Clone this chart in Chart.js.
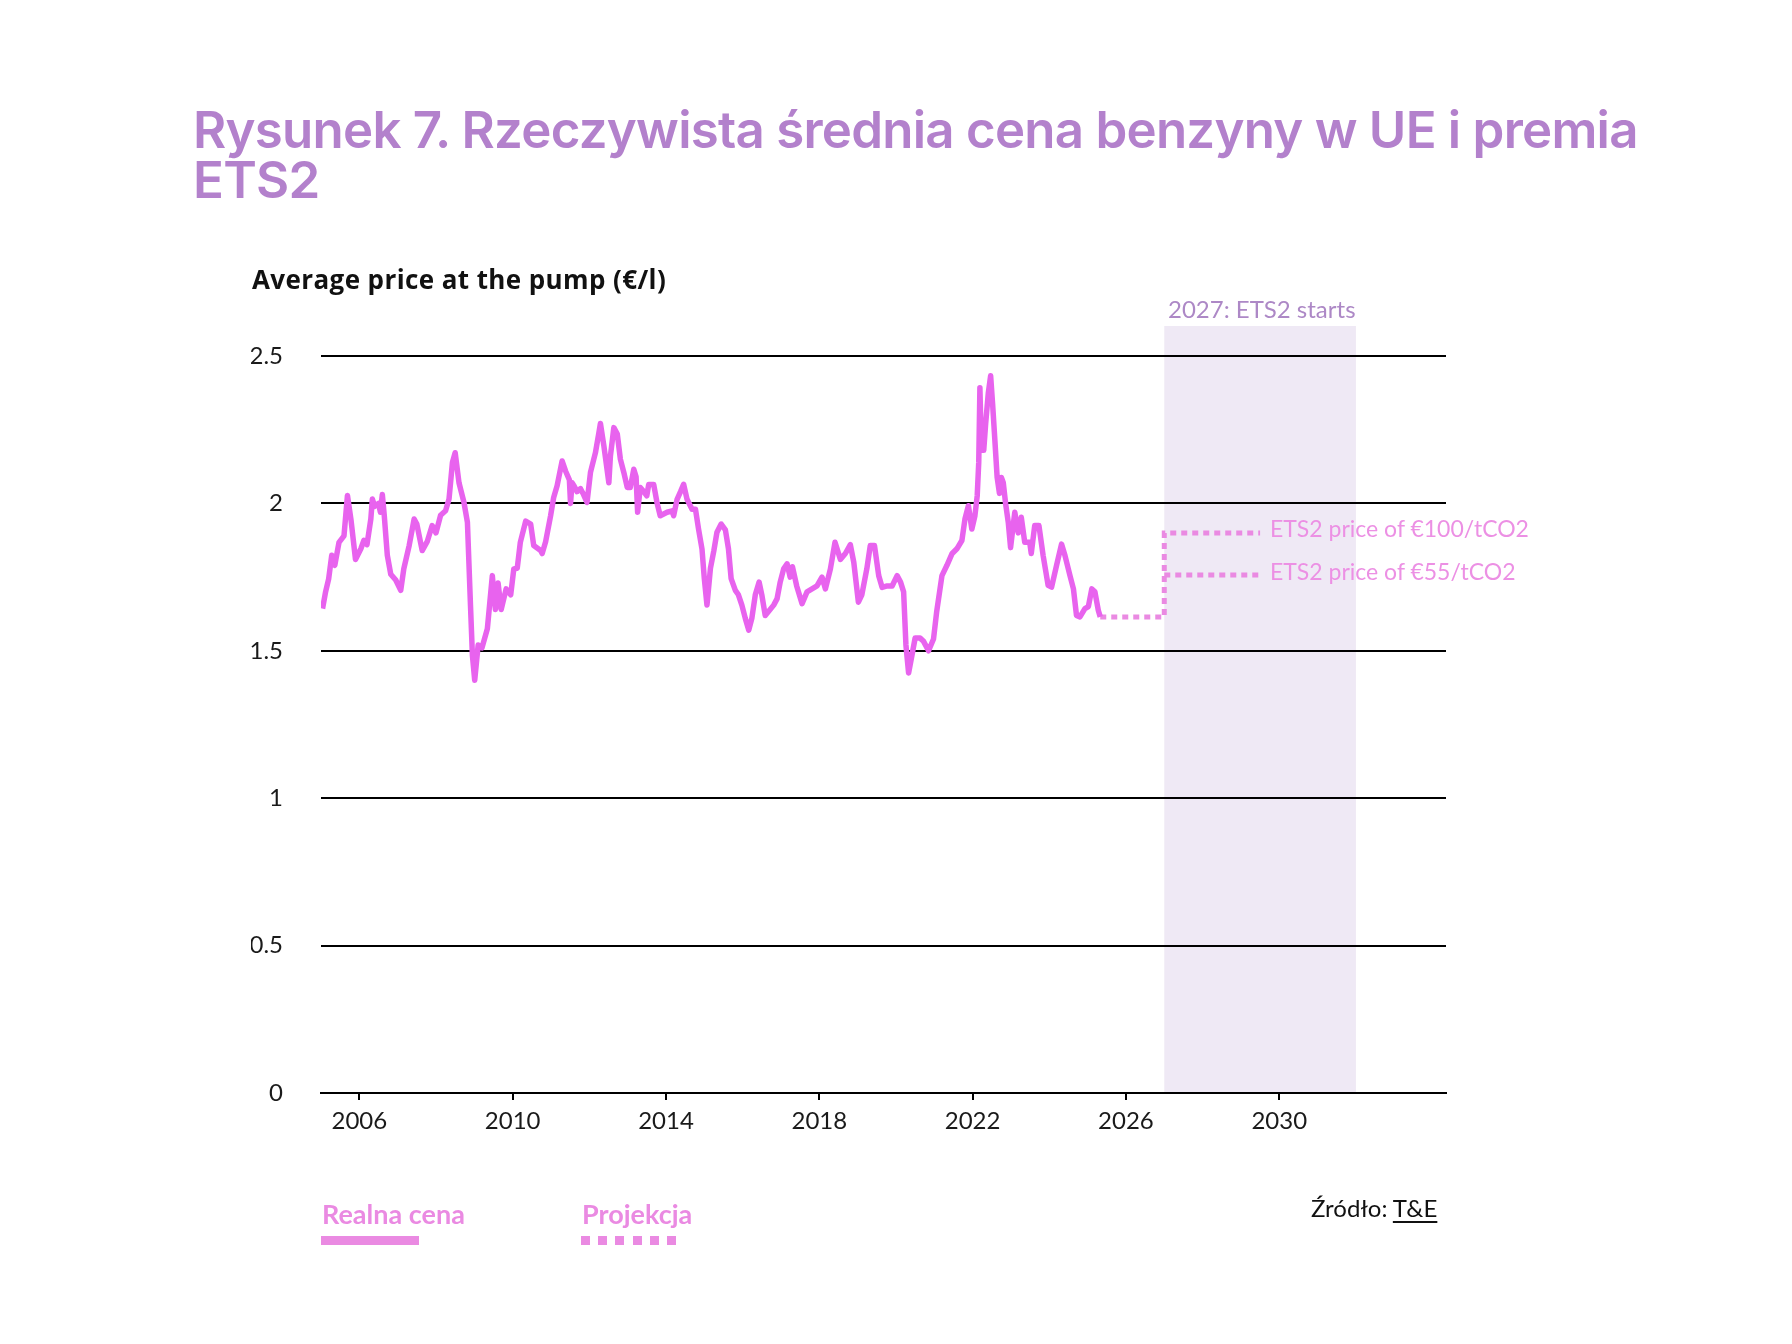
<!DOCTYPE html>
<html lang="pl">
<head>
<meta charset="utf-8">
<title>Rysunek 7</title>
<script src="https://cdn.jsdelivr.net/npm/chart.js@4.4.1/dist/chart.umd.min.js"></script>
<style>
  html, body { margin: 0; padding: 0; background: #fff; }
  #page { position: relative; width: 1792px; height: 1344px; overflow: hidden; font-family: Lato, sans-serif; }
  #chart { position: absolute; left: 0; top: 0; }
  .txt { position: absolute; white-space: nowrap; line-height: 1; }
  #title { left: 193px; top: 105px; font-family: Inter, sans-serif; font-weight: 600; font-size: 51px; line-height: 50px; color: #b381cc; letter-spacing: -0.75px; }
  #ytitle { left: 252px; top: 266px; font-family: "Open Sans", sans-serif; font-weight: 700; font-size: 26px; color: #111; letter-spacing: 0.4px; }
  #ets-start { left: 1168px; top: 297px; font-size: 24px; color: #ad88c6; }
  .ets-lab { left: 1270px; font-size: 23px; color: #ec90e4; }
  .leg { font-weight: 700; font-size: 27px; color: #ea8ae2; top: 1200px; }
  .leg-bar { position: absolute; top: 1236px; height: 9px; }
  #source { left: 1311px; top: 1196px; font-size: 24px; color: #111; }
  #source u { text-underline-offset: 4px; text-decoration-thickness: 2px; }
</style>
</head>
<body>
<div id="page">
  <canvas id="chart" width="1792" height="1344"></canvas>

  <div class="txt" id="title">Rysunek 7. Rzeczywista średnia cena benzyny w UE i premia<br>ETS2</div>
  <div class="txt" id="ytitle">Average price at the pump (€/l)</div>
  <div class="txt" id="ets-start">2027: ETS2 starts</div>
  <div class="txt ets-lab" style="top:517px">ETS2 price of €100/tCO2</div>
  <div class="txt ets-lab" style="top:560px">ETS2 price of €55/tCO2</div>

  <div class="txt leg" style="left:322px">Realna cena</div>
  <div class="leg-bar" style="left:321px; width:98px; background:#ea8ae2"></div>
  <div class="txt leg" style="left:582px">Projekcja</div>
  <div class="leg-bar" style="left:581px; width:95px; background:repeating-linear-gradient(to right, #ea8ae2 0 9px, transparent 9px 17.2px)"></div>

  <div class="txt" id="source">Źródło: <u>T&amp;E</u></div>
</div>

<script>
// Rzeczywista cena (rok dziesiętny)
const realYears = [
  2005.04, 2005.12, 2005.20, 2005.28, 2005.36, 2005.47, 2005.60, 2005.69, 2005.78, 2005.90,
  2006.04, 2006.12, 2006.20, 2006.30, 2006.34, 2006.40, 2006.50, 2006.55, 2006.60, 2006.65,
  2006.73, 2006.82, 2006.95, 2007.08, 2007.16, 2007.30, 2007.43, 2007.50, 2007.64, 2007.77,
  2007.90, 2008.00, 2008.12, 2008.25, 2008.34, 2008.43, 2008.50, 2008.60, 2008.73, 2008.82,
  2008.90, 2008.95, 2009.01, 2009.10, 2009.20, 2009.34, 2009.47, 2009.55, 2009.62, 2009.70,
  2009.83, 2009.95, 2010.03, 2010.12, 2010.20, 2010.34, 2010.47, 2010.55, 2010.73, 2010.77,
  2010.86, 2010.99, 2011.07, 2011.16, 2011.29, 2011.38, 2011.48, 2011.51, 2011.55, 2011.60,
  2011.68, 2011.77, 2011.85, 2011.94, 2012.03, 2012.16, 2012.25, 2012.29, 2012.38, 2012.51,
  2012.55, 2012.64, 2012.73, 2012.81, 2012.90, 2012.99, 2013.07, 2013.16, 2013.22, 2013.26,
  2013.33, 2013.42, 2013.50, 2013.55, 2013.68, 2013.77, 2013.85, 2014.03, 2014.16, 2014.20,
  2014.29, 2014.38, 2014.46, 2014.55, 2014.68, 2014.77, 2014.85, 2014.94, 2015.00, 2015.07,
  2015.16, 2015.25, 2015.33, 2015.44, 2015.55, 2015.63, 2015.70, 2015.81, 2015.89, 2015.98,
  2016.07, 2016.16, 2016.24, 2016.33, 2016.43, 2016.50, 2016.59, 2016.68, 2016.81, 2016.90,
  2016.98, 2017.07, 2017.16, 2017.24, 2017.30, 2017.41, 2017.55, 2017.68, 2017.81, 2017.94,
  2018.07, 2018.16, 2018.29, 2018.41, 2018.55, 2018.68, 2018.81, 2018.90, 2019.02, 2019.11,
  2019.24, 2019.33, 2019.44, 2019.55, 2019.64, 2019.77, 2019.90, 2020.03, 2020.12, 2020.20,
  2020.26, 2020.33, 2020.42, 2020.50, 2020.63, 2020.72, 2020.85, 2020.98, 2021.06, 2021.20,
  2021.33, 2021.46, 2021.59, 2021.72, 2021.80, 2021.89, 2021.98, 2022.06, 2022.12, 2022.16,
  2022.19, 2022.23, 2022.29, 2022.34, 2022.41, 2022.47, 2022.52, 2022.58, 2022.64, 2022.70,
  2022.75, 2022.80, 2022.86, 2022.93, 2022.99, 2023.10, 2023.19, 2023.27, 2023.36, 2023.49,
  2023.53, 2023.62, 2023.73, 2023.84, 2023.97, 2024.06, 2024.19, 2024.32, 2024.41, 2024.54,
  2024.63, 2024.71, 2024.80, 2024.93, 2025.02, 2025.11, 2025.19, 2025.28, 2025.33
];
const realPrices = [
  1.643, 1.700, 1.744, 1.824, 1.790, 1.868, 1.890, 2.027, 1.947, 1.810,
  1.846, 1.875, 1.860, 1.947, 2.015, 1.990, 2.000, 1.970, 2.030, 1.960,
  1.824, 1.760, 1.740, 1.705, 1.778, 1.857, 1.947, 1.930, 1.840, 1.870,
  1.925, 1.900, 1.960, 1.975, 2.015, 2.140, 2.172, 2.070, 2.003, 1.936,
  1.654, 1.485, 1.400, 1.520, 1.510, 1.575, 1.755, 1.640, 1.730, 1.640,
  1.710, 1.690, 1.778, 1.780, 1.868, 1.940, 1.930, 1.857, 1.840, 1.830,
  1.870, 1.958, 2.020, 2.060, 2.144, 2.110, 2.080, 2.000, 2.070, 2.060,
  2.040, 2.050, 2.030, 2.003, 2.105, 2.172, 2.240, 2.271, 2.195, 2.070,
  2.160, 2.257, 2.235, 2.150, 2.105, 2.054, 2.054, 2.116, 2.090, 1.970,
  2.054, 2.040, 2.026, 2.064, 2.064, 2.000, 1.958, 1.970, 1.975, 1.958,
  2.014, 2.040, 2.065, 2.014, 1.980, 1.980, 1.913, 1.845, 1.745, 1.655,
  1.780, 1.840, 1.902, 1.930, 1.910, 1.846, 1.745, 1.705, 1.690, 1.655,
  1.610, 1.570, 1.610, 1.690, 1.733, 1.690, 1.620, 1.634, 1.655, 1.677,
  1.733, 1.778, 1.795, 1.750, 1.785, 1.720, 1.660, 1.700, 1.710, 1.720,
  1.750, 1.710, 1.778, 1.868, 1.810, 1.830, 1.860, 1.800, 1.665, 1.690,
  1.778, 1.857, 1.857, 1.755, 1.715, 1.720, 1.720, 1.755, 1.733, 1.700,
  1.520, 1.425, 1.487, 1.543, 1.543, 1.532, 1.500, 1.540, 1.630, 1.755,
  1.790, 1.829, 1.846, 1.874, 1.947, 1.992, 1.913, 1.958, 2.026, 2.140,
  2.392, 2.180, 2.180, 2.270, 2.375, 2.433, 2.340, 2.215, 2.088, 2.034,
  2.088, 2.070, 2.000, 1.936, 1.850, 1.970, 1.900, 1.953, 1.868, 1.868,
  1.830, 1.925, 1.925, 1.823, 1.722, 1.716, 1.790, 1.862, 1.823, 1.755,
  1.710, 1.620, 1.615, 1.643, 1.650, 1.710, 1.700, 1.637, 1.615
];

// Projekcja: cena bazowa do 2027, potem premia ETS2 (€100/tCO2)
const projYears = [2025.33, 2027, 2027, 2029.5];
const projPrices = [1.615, 1.615, 1.900, 1.900];
// Premia ETS2 przy €55/tCO2
const ets55Years = [2027, 2029.5];
const ets55Prices = [1.757, 1.757];

// Okres ETS2 (zaciemniony obszar)
const etsPeriod = [2027, 2032];

// Etykiety osi
const xTickYears = [2006, 2010, 2014, 2018, 2022, 2026, 2030];
const yTickValues = [0, 0.5, 1, 1.5, 2, 2.5];
const yTickLabels = ['0', '0.5', '1', '1.5', '2', '2.5'];

function toPoints(xs, ys) {
  return xs.map((x, i) => ({ x: x, y: ys[i] }));
}

// Tło obszaru ETS2 rysowane pod siatką
const etsBand = {
  id: 'etsBand',
  beforeDraw(chart) {
    const { ctx, scales: { x, y } } = chart;
    const left = x.getPixelForValue(etsPeriod[0]);
    const right = x.getPixelForValue(etsPeriod[1]);
    const top = y.getPixelForValue(2.5) - 30;
    const bottom = y.getPixelForValue(0);
    ctx.save();
    ctx.fillStyle = '#efe9f5';
    ctx.fillRect(left, top, right - left, bottom - top);
    ctx.restore();
  }
};

const tickFont = { family: 'Lato', size: 24 };

new Chart(document.getElementById('chart').getContext('2d'), {
  type: 'line',
  data: {
    datasets: [
      {
        label: 'Realna cena',
        data: toPoints(realYears, realPrices),
        borderColor: '#e863ee',
        borderWidth: 5.5,
        borderJoinStyle: 'round',
        pointRadius: 0,
        tension: 0
      },
      {
        label: 'Projekcja',
        data: toPoints(projYears, projPrices),
        borderColor: '#ea8ae2',
        borderWidth: 5,
        borderDash: [6, 5],
        borderCapStyle: 'butt',
        pointRadius: 0,
        tension: 0
      },
      {
        label: 'Projekcja €55',
        data: toPoints(ets55Years, ets55Prices),
        borderColor: '#ea8ae2',
        borderWidth: 5,
        borderDash: [6, 5],
        borderCapStyle: 'butt',
        pointRadius: 0,
        tension: 0
      }
    ]
  },
  options: {
    responsive: false,
    animation: false,
    devicePixelRatio: 1,
    layout: { padding: { left: 251, right: 346, top: 356, bottom: 191 } },
    plugins: {
      legend: { display: false },
      tooltip: { enabled: false }
    },
    scales: {
      x: {
        type: 'linear',
        min: 2005,
        max: 2034.35,
        afterBuildTicks(scale) {
          scale.ticks = xTickYears.map(v => ({ value: v }));
        },
        afterFit(scale) { scale.height = 60; },
        ticks: {
          color: '#1a1a1a',
          font: tickFont,
          padding: 7,
          maxRotation: 0,
          autoSkip: false,
          callback: (v) => String(v)
        },
        grid: {
          drawOnChartArea: false,
          color: '#000',
          lineWidth: 2,
          tickLength: 7
        },
        border: { color: '#000', width: 2 }
      },
      y: {
        min: 0,
        max: 2.5,
        afterBuildTicks(scale) {
          scale.ticks = yTickValues.map(v => ({ value: v }));
        },
        afterFit(scale) { scale.width = 70; },
        ticks: {
          color: '#1a1a1a',
          font: tickFont,
          padding: 38,
          callback: (v, i) => yTickLabels[i]
        },
        grid: {
          color: '#000',
          lineWidth: 2,
          drawTicks: false
        },
        border: { display: false }
      }
    }
  },
  plugins: [etsBand]
});
</script>
</body>
</html>
